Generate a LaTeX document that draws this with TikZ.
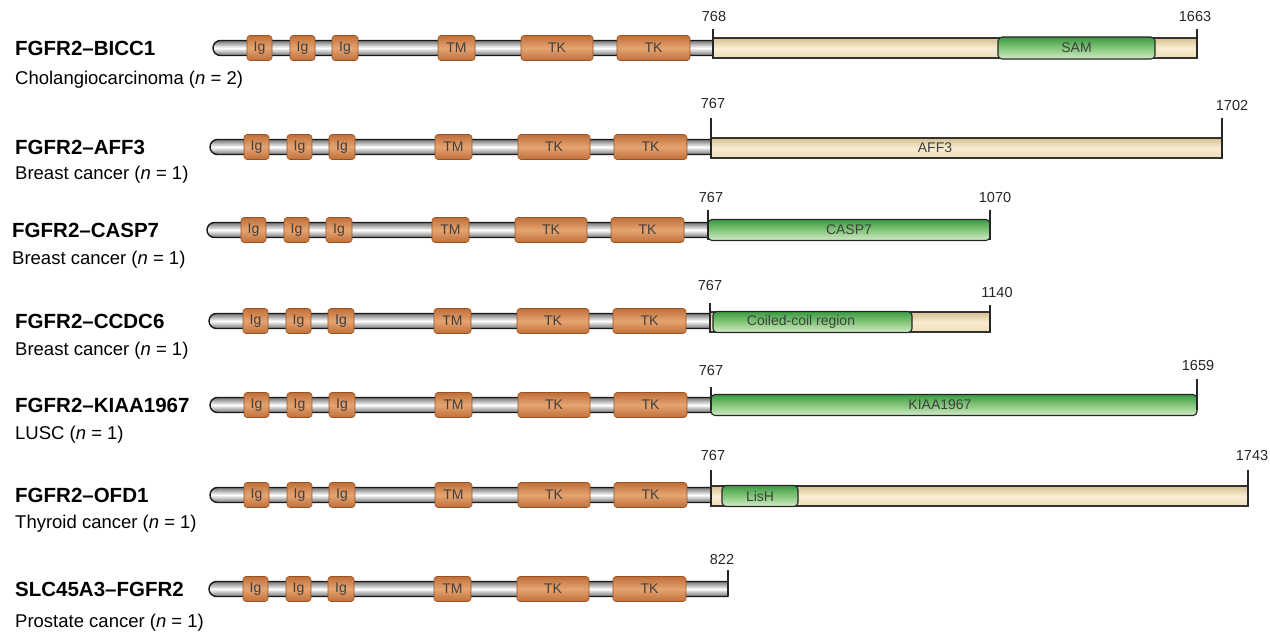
\documentclass[tikz,border=0pt]{standalone}
\usepackage{fontspec}
\setmainfont{Liberation Sans}
\newfontfamily\lsans{Liberation Sans}
\newcommand\myTitleFont{\lsans\bfseries\fontsize{20.5}{22}\selectfont}
\newcommand\mySubFont{\lsans\fontsize{18.5}{20}\selectfont}
\newcommand\myDomFont{\lsans\fontsize{14}{16}\selectfont}
\newcommand\myNumFont{\lsans\fontsize{14.5}{16}\selectfont}
\definecolor{domdk}{HTML}{BF6F38}
\definecolor{domlt}{HTML}{E5A472}
\definecolor{dombd}{HTML}{9A5224}
\definecolor{tandk}{HTML}{D6BF92}
\definecolor{tanlt}{HTML}{F8EDD3}
\definecolor{tanmid}{HTML}{EEDDB4}
\definecolor{grdk}{HTML}{3A9A42}
\definecolor{grlt}{HTML}{D3EBC8}
\definecolor{grmid}{HTML}{86C77B}
\tikzset{
  bar/.style={draw=black!90, line width=1.4pt, top color=black!55, bottom color=black!55, middle color=white},
  dom/.style={draw=dombd, line width=0.6pt, rounded corners=3pt, top color=domdk, bottom color=domdk, middle color=domlt, minimum height=25pt, inner sep=0pt, font=\myDomFont, text=black!75},
  tanbox/.style={draw=black!80, line width=1.1pt, top color=tandk, bottom color=tanmid, middle color=tanlt, minimum height=20pt, inner sep=0pt, font=\myDomFont, text=black!75},
  grbox/.style={draw=black!85, line width=1.1pt, rounded corners=4pt, top color=grdk, bottom color=grlt, middle color=grmid, minimum height=21pt, inner sep=0pt, font=\myDomFont, text=black!75},
  tickline/.style={draw=black!85, line width=1.3pt},
  num/.style={font=\myNumFont, inner sep=0pt, text=black!85},
  title/.style={font=\myTitleFont, anchor=west, inner sep=0pt},
  subt/.style={font=\mySubFont, anchor=west, inner sep=0pt},
  lbl/.style={font=\myDomFont, text=black!75, inner sep=0pt}
}
\newcommand{\fgfrbar}[4]{%
  \path[bar] (#4,#2-7.5) -- ({#3+7.5},#2-7.5) arc[start angle=270,end angle=90,radius=7.5pt] -- (#4,#2+7.5) -- cycle;
  \node[dom, minimum width=25pt] (#1ia) at ({#3+46.5},#2) {Ig};
  \node[dom, minimum width=25pt] (#1ib) at ({#3+89.5},#2) {Ig};
  \node[dom, minimum width=26pt] (#1ic) at ({#3+132},#2) {Ig};
  \node[dom, minimum width=37pt] (#1tm) at ({#3+243.5},#2) {TM};
  \node[dom, minimum width=72pt] (#1ka) at ({#3+344},#2) {TK};
  \node[dom, minimum width=73pt] (#1kb) at ({#3+440.5},#2) {TK};
}
\begin{document}
\begin{tikzpicture}[x=1pt,y=1pt]
\useasboundingbox[fill=white] (0,0) rectangle (1270,-635);

% ---------- Row 1: FGFR2-BICC1
\node[title] (t1) at (15,-48) {FGFR2–BICC1};
\node[subt] (s1) at (15,-80) {Cholangiocarcinoma (\textit{n} = 2)};
\fgfrbar{r1}{-48}{213}{713}
\node[tanbox, minimum width=484pt] (r1tan) at (955,-48) {};
\node[grbox, minimum width=157pt, minimum height=22pt] (r1sam) at (1076.5,-48) {SAM};
\coordinate (r1a) at (713,-29);
\coordinate (r1b) at (1197,-29);
\draw[tickline] (713,-58) -- (r1a);
\draw[tickline] (1197,-58) -- (r1b);
\node[num] (n1a) at (714,-17) {768};
\node[num] (n1b) at (1195,-17) {1663};

% ---------- Row 2: FGFR2-AFF3
\node[title] (t2) at (15,-147) {FGFR2–AFF3};
\node[subt] (s2) at (15,-175) {Breast cancer (\textit{n} = 1)};
\fgfrbar{r2}{-147}{210}{711}
\node[tanbox, minimum width=511pt] (r2tan) at (966.5,-148) {};
\node[lbl] (l2) at (935,-148) {AFF3};
\coordinate (r2a) at (711,-118);
\coordinate (r2b) at (1222,-118);
\draw[tickline] (711,-158) -- (r2a);
\draw[tickline] (1222,-158) -- (r2b);
\node[num] (n2a) at (713,-104) {767};
\node[num] (n2b) at (1232,-106) {1702};

% ---------- Row 3: FGFR2-CASP7
\node[title] (t3) at (12,-230) {FGFR2–CASP7};
\node[subt] (s3) at (12,-260) {Breast cancer (\textit{n} = 1)};
\fgfrbar{r3}{-230}{207}{708}
\node[grbox, minimum width=282pt] (r3g) at (849,-230) {CASP7};
\coordinate (r3a) at (708,-210);
\coordinate (r3b) at (990,-210);
\draw[tickline] (708,-240) -- (r3a);
\draw[tickline] (990,-240) -- (r3b);
\node[num] (n3a) at (711,-198) {767};
\node[num] (n3b) at (995,-198) {1070};

% ---------- Row 4: FGFR2-CCDC6
\node[title] (t4) at (15,-321) {FGFR2–CCDC6};
\node[subt] (s4) at (15,-351) {Breast cancer (\textit{n} = 1)};
\fgfrbar{r4}{-321}{209}{710}
\node[tanbox, minimum width=280pt] (r4tan) at (850,-322) {};
\node[grbox, minimum width=199pt] (r4g) at (812.5,-322) {};
\node[lbl] (l4) at (801,-322) {Coiled-coil region};
\coordinate (r4a) at (710,-303);
\coordinate (r4b) at (990,-305);
\draw[tickline] (710,-332) -- (r4a);
\draw[tickline] (990,-332) -- (r4b);
\node[num] (n4a) at (710,-286) {767};
\node[num] (n4b) at (997,-293) {1140};

% ---------- Row 5: FGFR2-KIAA1967
\node[title] (t5) at (15,-405) {FGFR2–KIAA1967};
\node[subt] (s5) at (15,-435) {LUSC (\textit{n} = 1)};
\fgfrbar{r5}{-405}{210}{711}
\node[grbox, minimum width=486pt] (r5g) at (954,-405) {};
\node[lbl] (l5) at (940,-405) {KIAA1967};
\coordinate (r5a) at (711,-387);
\coordinate (r5b) at (1197,-379);
\draw[tickline] (711,-410) -- (r5a);
\draw[tickline] (1197,-410) -- (r5b);
\node[num] (n5a) at (711,-371) {767};
\node[num] (n5b) at (1198,-366) {1659};

% ---------- Row 6: FGFR2-OFD1
\node[title] (t6) at (15,-495) {FGFR2–OFD1};
\node[subt] (s6) at (15,-524) {Thyroid cancer (\textit{n} = 1)};
\fgfrbar{r6}{-495}{210}{711}
\node[tanbox, minimum width=537pt] (r6tan) at (979.5,-496) {};
\node[grbox, minimum width=76pt] (r6g) at (760,-496) {LisH};
\coordinate (r6a) at (711,-470);
\coordinate (r6b) at (1248,-470);
\draw[tickline] (711,-506) -- (r6a);
\draw[tickline] (1248,-506) -- (r6b);
\node[num] (n6a) at (713,-456) {767};
\node[num] (n6b) at (1252,-456) {1743};

% ---------- Row 7: SLC45A3-FGFR2
\node[title] (t7) at (15,-589) {SLC45A3–FGFR2};
\node[subt] (s7) at (15,-623) {Prostate cancer (\textit{n} = 1)};
\fgfrbar{r7}{-589}{209}{728}
\coordinate (r7a) at (728,-570);
\draw[tickline] (728,-596) -- (r7a);
\node[num] (n7a) at (722,-560) {822};
\end{tikzpicture}
\end{document}
